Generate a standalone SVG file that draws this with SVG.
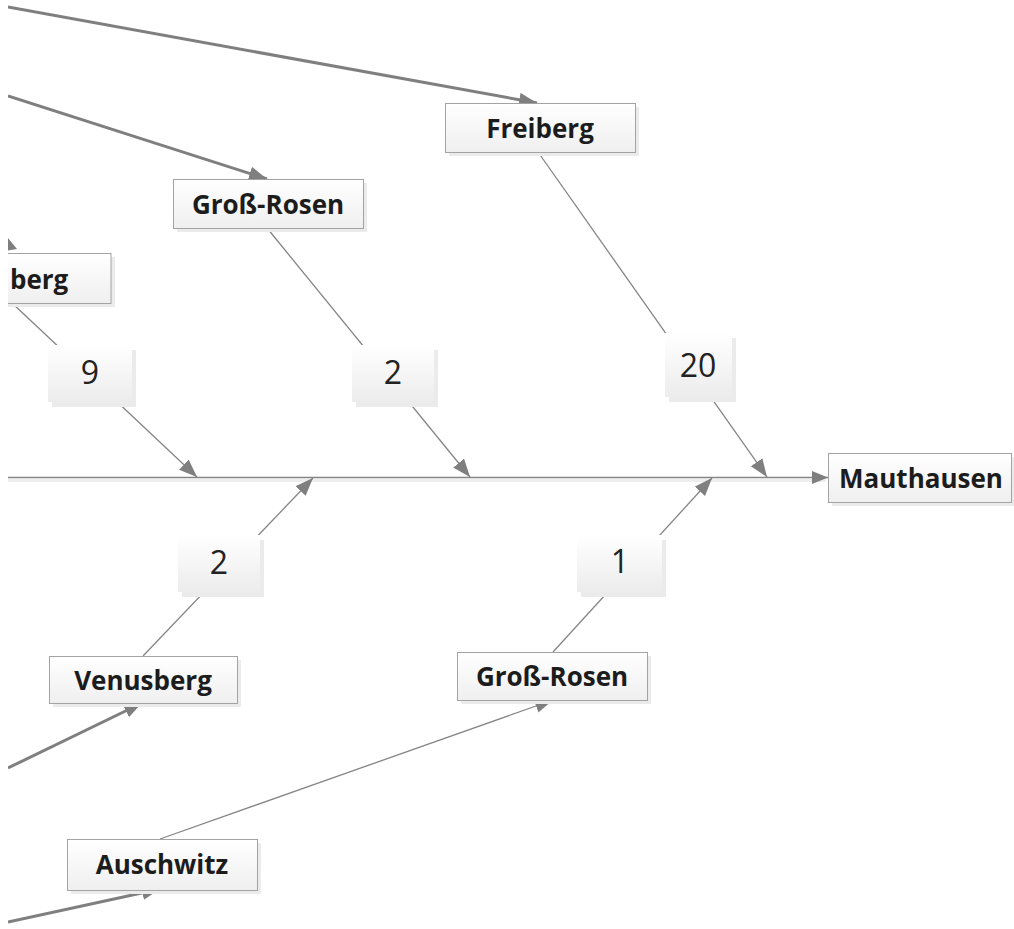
<svg xmlns="http://www.w3.org/2000/svg" width="1014" height="929" viewBox="0 0 1014 929">
<style>
.lbl{font-family:"Open Sans","Liberation Sans",sans-serif;font-weight:bold;font-size:26px;fill:#1c1c1c;text-anchor:middle}
.num{font-family:"Open Sans","Liberation Sans",sans-serif;font-size:32px;fill:#222;text-anchor:middle}
.box{fill:url(#gb);stroke:#a3a3a3;stroke-width:1}
.nbox{fill:url(#gn)}
.sh{fill:#ebebeb}
.thick{stroke:#7f7f7f;stroke-width:3;fill:none}
.thin{stroke:#858585;stroke-width:1.3;fill:none}
</style>
<defs>
<linearGradient id="gb" x1="0" y1="0" x2="0" y2="1"><stop offset="0" stop-color="#ffffff"/><stop offset="1" stop-color="#efefef"/></linearGradient>
<linearGradient id="gn" x1="0" y1="0" x2="0" y2="1"><stop offset="0" stop-color="#ffffff"/><stop offset="1" stop-color="#ececec"/></linearGradient>
<marker id="ah" markerUnits="userSpaceOnUse" markerWidth="20" markerHeight="16" refX="18" refY="7" orient="auto" viewBox="0 0 20 16"><path d="M0,0 L18,7 L0,14 z" fill="#7f7f7f"/></marker>
<marker id="ah2" markerUnits="userSpaceOnUse" markerWidth="20" markerHeight="16" refX="16" refY="6.5" orient="auto" viewBox="0 0 20 16"><path d="M0,0 L16,6.5 L0,13 z" fill="#7f7f7f"/></marker>
<clipPath id="cl"><rect x="8" y="0" width="1006" height="929"/></clipPath>
</defs>
<rect x="0" y="0" width="1014" height="929" fill="#ffffff"/>
<g clip-path="url(#cl)">
<g id="connectors">
<line x1="8" y1="480.5" x2="826" y2="480.5" stroke="#ededed" stroke-width="3"/>
<line class="thin" x1="8" y1="477.5" x2="828" y2="477.5" marker-end="url(#ah2)"/>
<line class="thick" x1="8" y1="7" x2="537" y2="103" marker-end="url(#ah)"/>
<line class="thick" x1="8" y1="96" x2="267" y2="179" marker-end="url(#ah)"/>
<line class="thick" x1="8" y1="768" x2="142" y2="703" marker-end="url(#ah)"/>
<line class="thick" x1="8" y1="922" x2="160" y2="889" marker-end="url(#ah)"/>
<line class="thin" x1="538" y1="152" x2="767" y2="477" marker-end="url(#ah)"/>
<line class="thin" x1="267" y1="228" x2="470" y2="477" marker-end="url(#ah)"/>
<line class="thin" x1="12" y1="303" x2="197" y2="477" marker-end="url(#ah)"/>
<line class="thin" x1="143" y1="656" x2="313" y2="478" marker-end="url(#ah)"/>
<line class="thin" x1="553" y1="652" x2="712" y2="478" marker-end="url(#ah)"/>
<line class="thin" x1="160" y1="839" x2="553" y2="700" marker-end="url(#ah)"/>
<polygon points="4,233 17,249 4,251" fill="#7f7f7f"/>
</g>
<g id="n-freiberg">
<rect class="sh" x="449" y="107" width="190" height="49"/>
<rect class="box" x="445.5" y="103.5" width="190" height="49"/>
<text class="lbl" x="540" y="138">Freiberg</text>
</g>
<g id="n-grossrosen-top">
<rect class="sh" x="177" y="183" width="190" height="49"/>
<rect class="box" x="173.5" y="179.5" width="190" height="49"/>
<text class="lbl" x="268" y="214">Groß-Rosen</text>
</g>
<g id="n-berg">
<rect class="sh" x="-76" y="257" width="191" height="50"/>
<rect class="box" x="-80" y="253.5" width="191" height="50"/>
<text class="lbl" x="10" y="289" style="text-anchor:start">berg</text>
</g>
<g id="n-9">
<rect class="sh" x="52" y="350" width="84" height="57"/>
<rect class="nbox" x="48" y="345" width="84" height="57"/>
<text class="num" x="90" y="384">9</text>
</g>
<g id="n-2-top">
<rect class="sh" x="356" y="350" width="82" height="57"/>
<rect class="nbox" x="352" y="345" width="82" height="57"/>
<text class="num" x="393" y="384">2</text>
</g>
<g id="n-20">
<rect class="sh" x="669" y="338" width="67" height="64"/>
<rect class="nbox" x="665" y="333" width="67" height="64"/>
<text class="num" x="698" y="377">20</text>
</g>
<g id="n-mauthausen">
<rect class="sh" x="832" y="457" width="190" height="49"/>
<rect class="box" x="828.5" y="453.5" width="183" height="49"/>
<text class="lbl" x="921" y="488">Mauthausen</text>
</g>
<g id="n-2-bottom">
<rect class="sh" x="182" y="540" width="82" height="57"/>
<rect class="nbox" x="178" y="535" width="82" height="57"/>
<text class="num" x="219" y="574">2</text>
</g>
<g id="n-1">
<rect class="sh" x="581" y="540" width="85" height="57"/>
<rect class="nbox" x="577" y="535" width="85" height="57"/>
<text class="num" x="620" y="573">1</text>
</g>
<g id="n-venusberg">
<rect class="sh" x="53" y="660" width="188" height="47"/>
<rect class="box" x="49.5" y="656.5" width="188" height="47"/>
<text class="lbl" x="143" y="690">Venusberg</text>
</g>
<g id="n-grossrosen-bottom">
<rect class="sh" x="461" y="656" width="190" height="48"/>
<rect class="box" x="457.5" y="652.5" width="190" height="48"/>
<text class="lbl" x="552" y="686">Groß-Rosen</text>
</g>
<g id="n-auschwitz">
<rect class="sh" x="71" y="843" width="190" height="51"/>
<rect class="box" x="67.5" y="839.5" width="190" height="51"/>
<text class="lbl" x="162" y="874">Auschwitz</text>
</g>
</g>
</svg>
